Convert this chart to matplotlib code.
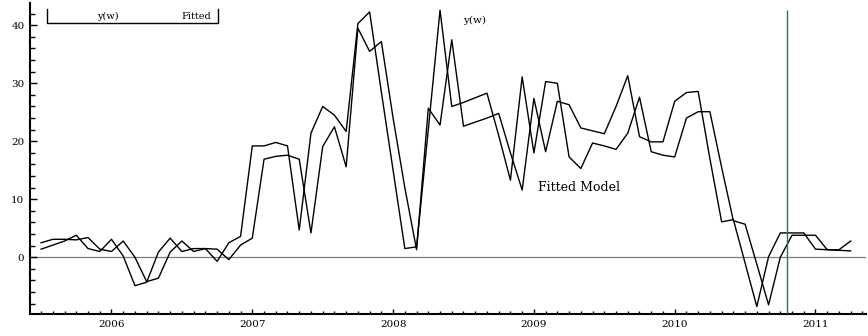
import numpy as np
import matplotlib
matplotlib.use("Agg")
import matplotlib.pyplot as plt
from matplotlib.lines import Line2D

# monthly data, Jul 2005 .. Apr 2011
start_year = 2005.5
y_w = [1.4, 2.1, 2.8, 3.8, 1.5, 1.0, 3.1, 0.2, -4.9, -4.3,
       0.9, 3.3, 1.0, 1.5, 1.5, -0.7, 2.5, 3.6, 19.2, 19.2,
       19.8, 19.2, 4.7, 21.4, 26.0, 24.5, 21.7, 40.3, 42.3, 28.5,
       15.0, 1.5, 1.8, 22.0, 42.6, 26.0, 26.7, 27.5, 28.3, 21.0,
       13.3, 31.1, 18.0, 30.3, 30.0, 17.3, 15.3, 19.7, 19.2, 18.6,
       21.4, 27.6, 18.2, 17.6, 17.3, 24.0, 25.1, 25.1, 15.5, 6.3,
       5.7, -1.2, -8.2, 0.0, 3.8, 3.8, 3.8, 1.3, 1.2, 1.1]
fitted = [2.5, 3.1, 3.1, 3.0, 3.4, 1.4, 1.0, 2.8, 0.0, -4.2,
          -3.6, 0.9, 2.8, 1.0, 1.5, 1.4, -0.4, 2.1, 3.3, 16.9,
          17.4, 17.6, 16.9, 4.2, 19.1, 22.5, 15.6, 39.5, 35.5, 37.2,
          24.0, 12.0, 1.3, 25.7, 22.8, 37.5, 22.6, 23.3, 24.0, 24.8,
          18.0, 11.6, 27.4, 18.2, 26.9, 26.3, 22.3, 21.8, 21.3, 26.0,
          31.3, 20.8, 19.9, 19.9, 26.9, 28.4, 28.6, 17.0, 6.1, 6.5,
          -1.0, -8.5, 0.1, 4.2, 4.2, 4.2, 1.4, 1.3, 1.3, 2.8]
years = [2006, 2007, 2008, 2009, 2010, 2011]
y_major = [0, 10, 20, 30, 40]
forecast_start = 2010.795

t = start_year + np.arange(len(y_w)) / 12.0

W, H = 868, 336
fig = plt.figure(figsize=(W / 100, H / 100), dpi=100)
ax = fig.add_axes([30 / W, 22 / H, 836 / W, 310.7 / H])

serif = "DejaVu Serif"

ax.axhline(0, color="#7f7f7f", lw=0.9, zorder=1)
ax.plot(t, y_w, color="black", lw=1.0, zorder=3)
ax.plot(t, fitted, color="black", lw=1.0, zorder=3)
ax.vlines(forecast_start, -9.78, 42.6, color="#0b7f78", lw=1.0, zorder=4)

ax.set_xlim(2005.4212, 2011.3587)
ax.set_ylim(-9.78, 43.79)

for s in ["top", "right"]:
    ax.spines[s].set_visible(False)
for s in ["left", "bottom"]:
    ax.spines[s].set_linewidth(1.5)

ax.set_xticks(years)
ax.set_xticklabels([str(y) for y in years])
ax.set_xticks(np.arange(2005.5, 2011.4, 1 / 12.0), minor=True)
ax.set_yticks(y_major)
ax.set_yticklabels([str(v) for v in y_major])
ax.set_yticks(np.arange(-8, 43, 2), minor=True)

ax.tick_params(axis="x", which="major", direction="in", length=3.5, width=1.0, pad=4)
ax.tick_params(axis="x", which="minor", direction="in", length=2.0, width=1.0)
ax.tick_params(axis="y", which="major", direction="in", length=5.0, width=1.0, pad=4)
ax.tick_params(axis="y", which="minor", direction="in", length=3.5, width=1.0)
for lab in ax.get_xticklabels() + ax.get_yticklabels():
    lab.set_fontfamily(serif)
    lab.set_fontsize(7.5)

# labels inside the plot
ax.text(2008.575, 40.9, "y(w)", family=serif, fontsize=7.5, ha="center", va="center")
ax.text(2009.32, 11.95, "Fitted Model", family=serif, fontsize=9, ha="center", va="center")

# legend bracket at top left
def fx(px):
    return px / W

def fy(py):
    return 1 - py / H

fig.add_artist(Line2D([fx(46.7), fx(46.7), fx(218), fx(218)],
                      [fy(9.3), fy(23.3), fy(23.3), fy(9.3)],
                      color="black", lw=1.0, transform=fig.transFigure))
fig.text(fx(108), fy(16.5), "y(w)", family=serif, fontsize=7, ha="center", va="center")
fig.text(fx(196), fy(16.5), "Fitted", family=serif, fontsize=7, ha="center", va="center")

fig.savefig("out.png", dpi=100)
